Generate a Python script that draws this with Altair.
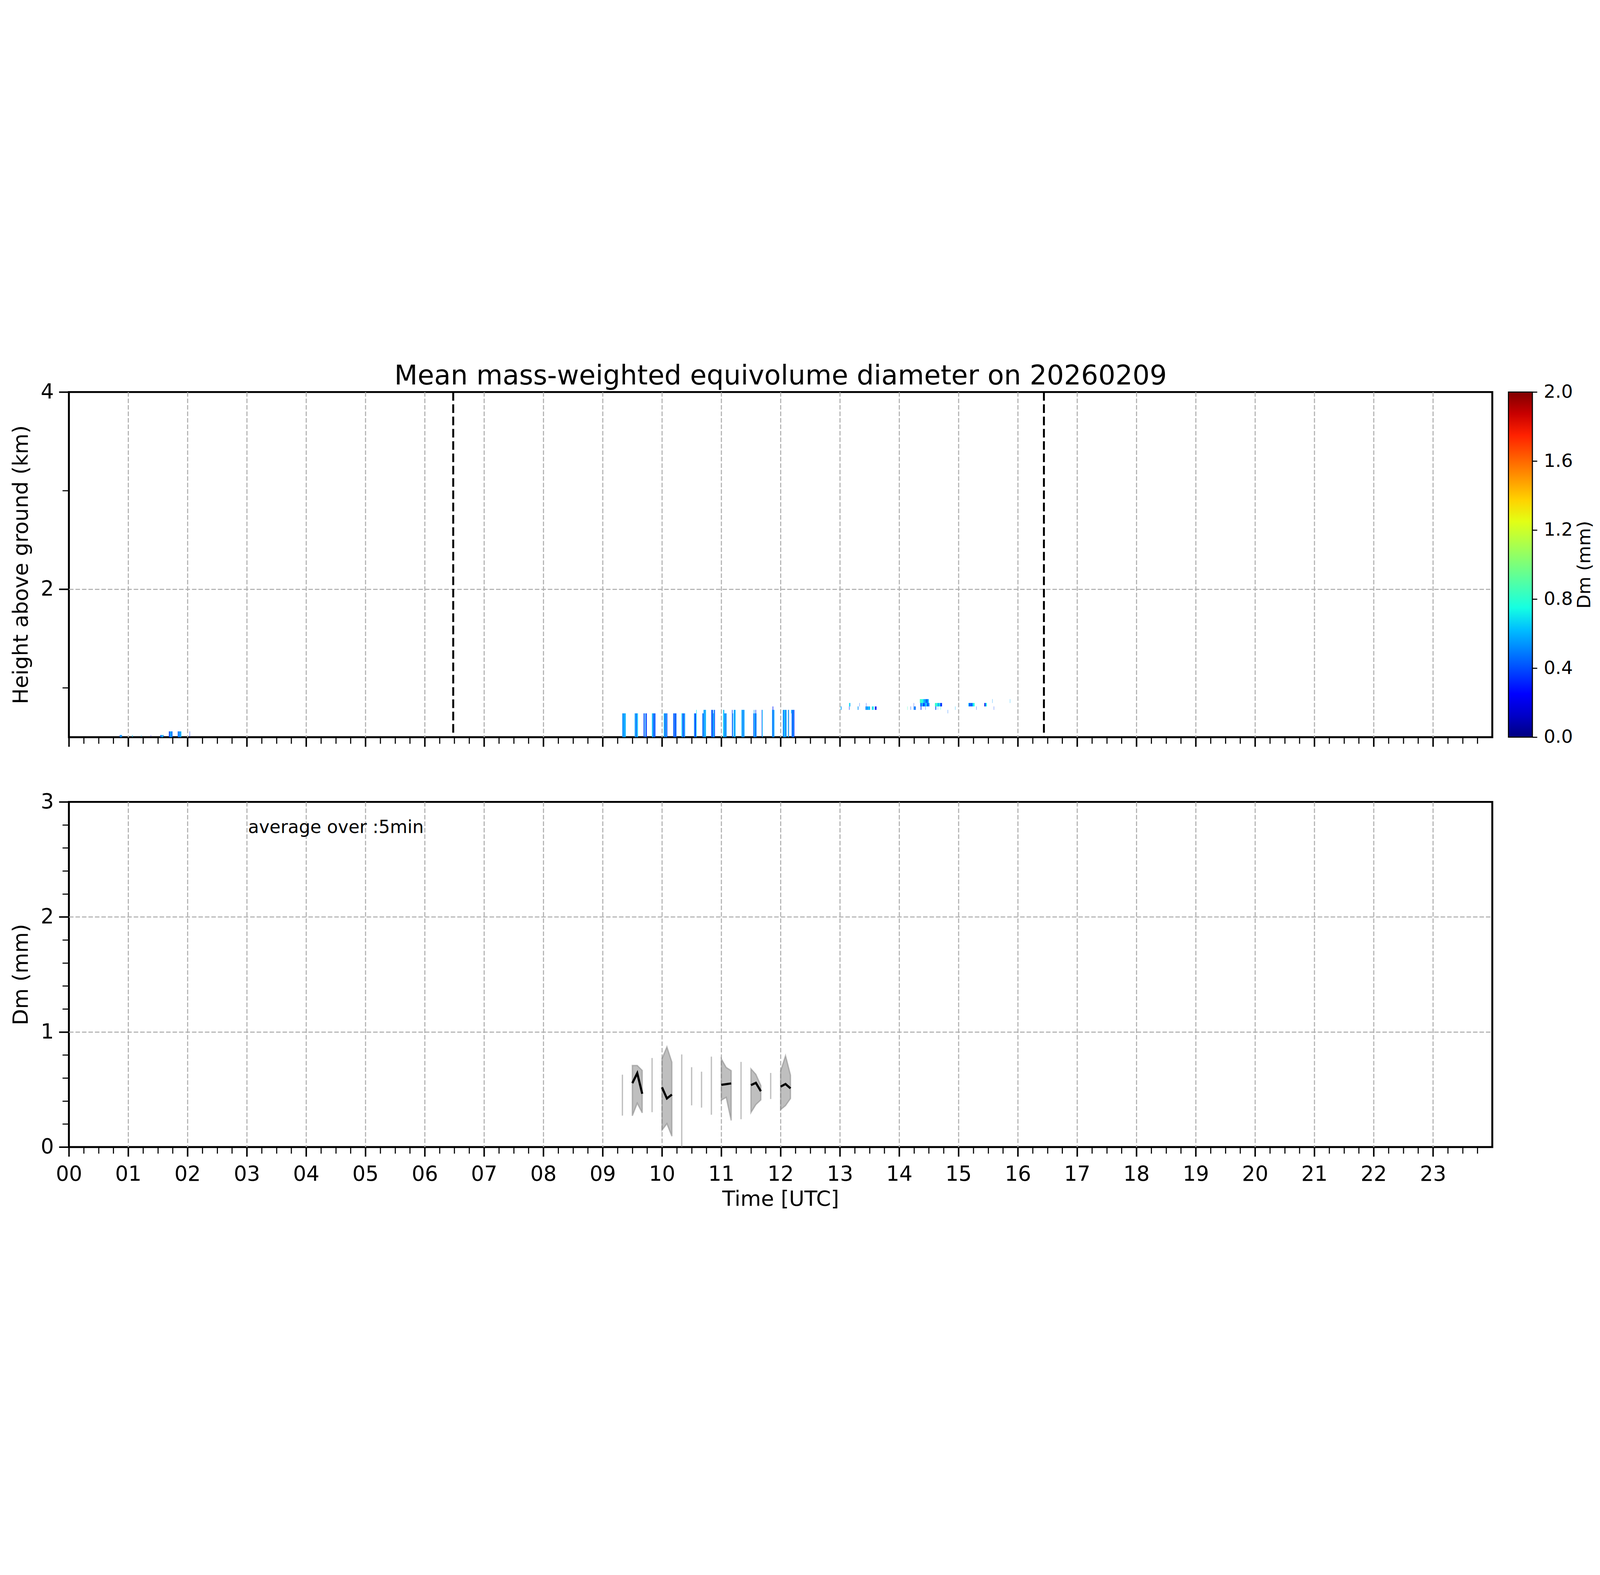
import altair as alt
import pandas as pd

# ---------------- data ----------------
# radar range-gate edges (km above ground)
gate_edges = [0.500, 0.522, 0.559, 0.596, 0.633, 0.668, 0.705, 0.742, 0.777, 0.812, 0.847, 0.886]

# early weak echoes: start/end hour, top gate index, Dm per sub-column
early_start = [0.857, 1.065, 1.218, 1.380, 1.540, 1.686, 1.835, 2.035]
early_end = [0.896, 1.073, 1.222, 1.384, 1.595, 1.747, 1.896, 2.041]
early_top = [1, 1, 1, 1, 1, 2, 2, 2]
early_dm = [[0.45, 0.58, 0.50], [0.62], [0.60], [0.15], [0.40, 0.48, 0.55, 0.80, 0.38],
            [0.35, 0.42, 0.55, 0.62, 0.40, 0.50], [0.40, 0.58, 0.48, 0.52, 0.62], [0.35]]

# main precipitation bursts 09-12 UTC
main_start = [9.330, 9.540, 9.690, 9.830, 10.030, 10.190, 10.330, 10.540, 10.680, 10.830,
              11.030, 11.180, 11.340, 11.540, 11.682, 11.856, 12.037, 12.123, 12.186]
main_end = [9.390, 9.595, 9.745, 9.890, 10.090, 10.245, 10.390, 10.585, 10.742, 10.893,
            11.090, 11.241, 11.392, 11.595, 11.698, 11.895, 12.100, 12.141, 12.232]
main_top = [[7] * 6, [7] * 6, [7] * 6, [7] * 6, [7] * 6, [7] * 6, [7] * 6,
            [7, 7, 7, 7, 7, 8], [7, 7, 8, 8, 8, 8], [8, 8, 8, 7, 8, 8], [8, 8, 7, 7, 7, 7],
            [8, 7, 7, 8, 8, 8], [8] * 6, [7, 8, 7, 7, 8, 7], [8, 8], [8, 9, 8, 8],
            [8] * 6, [8, 8], [8, 8, 8, 8]]
main_dm = [[0.50, 0.58, 0.45, 0.62, 0.55, 0.60],
           [0.55, 0.62, 0.40, 0.50, 0.58, 0.65],
           [0.35, 0.45, None, 0.55, 0.40, 0.30],
           [0.65, 0.55, 0.45, 0.40, 0.50, 0.35],
           [0.70, 0.45, 0.38, 0.55, 0.62, 0.30],
           [0.45, 0.35, 0.55, 0.40, 0.30, 0.50],
           [0.65, 0.55, 0.40, 0.35, 0.60, 0.50],
           [0.55, 0.50, 0.40, 0.30, 0.45, 0.70],
           [0.50, 0.42, 0.55, 0.62, 0.48, 0.65],
           [0.40, 0.45, 0.35, 0.55, 0.65, 0.30],
           [0.70, 0.55, 0.60, 0.45, 0.58, 0.52],
           [0.35, 0.55, None, 0.60, 0.50, 0.62],
           [0.55, 0.62, 0.50, 0.45, 0.60, 0.55],
           [0.40, 0.55, 0.60, 0.50, 0.35, 0.55],
           [0.30, 0.70],
           [0.62, 0.30, 0.58, 0.55],
           [0.55, 0.45, 0.60, 0.70, 0.40, 0.55],
           [0.75, 0.40],
           [0.50, 0.35, 0.60, 0.30]]

# isolated single-gate echoes (mostly 13-16 UTC)
iso_start = [12.176, 13.014, 13.155, 13.155, 13.299, 13.329, 13.432, 13.443, 13.538, 13.589,
             14.137, 14.193, 14.244, 14.244, 14.348, 14.355, 14.362, 14.443, 14.603, 14.610,
             14.650, 14.696, 14.817, 14.942, 15.167, 15.301, 15.436, 15.571, 15.594, 15.868]
iso_end = [12.185, 13.028, 13.176, 13.162, 13.313, 13.333, 13.508, 13.447, 13.571, 13.617,
           14.141, 14.198, 14.248, 14.279, 14.499, 14.510, 14.373, 14.447, 14.722, 14.624,
           14.654, 14.700, 14.821, 14.946, 15.271, 15.305, 15.478, 15.575, 15.598, 15.872]
iso_gate = [7, 8, 9, 8, 8, 9, 8, 9, 8, 8,
            8, 8, 9, 8, 10, 9, 8, 8, 9, 8,
            8, 8, 7, 8, 9, 8, 9, 10, 8, 10]
iso_dm = [[0.60], [0.70, 0.45], [0.72, 0.60], [0.35], [0.65, 0.45], [0.40],
          [0.50, 0.62, 0.45, 0.68, 0.55], [0.30], [0.80, 0.60, 0.75], [0.30, 0.20],
          [0.85], [0.40], [0.35], [0.45, 0.55, 0.40],
          [0.85, 0.80, 0.75, 0.62, 0.55, 0.48, 0.40, 0.60],
          [0.45, 0.60, 0.35, 0.50, 0.65, 0.40, 0.50], [0.30], [0.40],
          [0.80, 0.85, 0.70, 0.55, 0.75, 0.40, 0.30], [0.40],
          [0.55], [0.75], [0.45], [0.60], [0.60, 0.30, 0.50, 0.35, 0.70, 0.75], [0.35],
          [0.20, 0.50, 0.75], [0.55], [0.35], [0.60]]

sun_times = [6.48, 16.44]

# 5-min averaged Dm (mean and +-std band)
seg_id = [1, 1, 1, 2, 2, 2, 3, 3, 3, 4, 4, 4, 5, 5, 5]
seg_time = [9.500, 9.583, 9.667, 10.000, 10.083, 10.167, 11.000, 11.083, 11.167,
            11.500, 11.583, 11.667, 12.000, 12.083, 12.167]
seg_mean = [0.555, 0.642, 0.463, 0.519, 0.422, 0.456, 0.541, 0.547, 0.553,
            0.538, 0.558, 0.485, 0.525, 0.548, 0.510]
seg_lo = [0.272, 0.381, 0.297, 0.147, 0.203, 0.094, 0.407, 0.432, 0.231,
          0.300, 0.369, 0.410, 0.325, 0.360, 0.422]
seg_hi = [0.709, 0.709, 0.666, 0.767, 0.871, 0.738, 0.767, 0.692, 0.664,
          0.680, 0.632, 0.535, 0.660, 0.794, 0.625]

single_time = [9.333, 9.833, 10.333, 10.500, 10.667, 10.833, 11.333, 11.833]
single_lo = [0.273, 0.303, -0.05, 0.362, 0.343, 0.281, 0.242, 0.418]
single_hi = [0.629, 0.774, 0.805, 0.694, 0.655, 0.786, 0.740, 0.644]

note_x = [3.02]
note_y = [2.73]
note_text = ["average over :5min"]

title_text = "Mean mass-weighted equivolume diameter on 20260209"

# jet colormap stops over 0-2 mm
dm_stops = [0.0, 0.125, 0.25, 0.375, 0.5, 0.625, 0.75, 0.875, 1.0,
            1.125, 1.25, 1.375, 1.5, 1.625, 1.75, 1.875, 2.0]
jet_colors = ["#00007f", "#0000c8", "#0000ff", "#0040ff", "#0080ff", "#00bfff", "#15ffe2",
              "#48ffaf", "#7bff7b", "#afff48", "#e2ff15", "#ffd200", "#ff9700", "#ff5c00",
              "#ff2100", "#c80000", "#800000"]
cbar_ticks = [0.0, 0.4, 0.8, 1.2, 1.6, 2.0]
cbar_lo = [0.0]
cbar_hi = [2.0]

# ---------------- tables ----------------
cells = []


def add_cell(t0, t1, g0, g1, dm):
    cells.append({"t0": t0, "t1": t1, "h0": gate_edges[g0], "h1": gate_edges[g1], "dm": dm})


for s, e, top, dms in zip(early_start, early_end, early_top, early_dm):
    w = (e - s) / len(dms)
    for i, d in enumerate(dms):
        add_cell(s + i * w, s + (i + 1) * w, 0, top, d)

for s, e, tops, dms in zip(main_start, main_end, main_top, main_dm):
    w = (e - s) / len(dms)
    for i, (d, tp) in enumerate(zip(dms, tops)):
        if d is None:
            continue
        add_cell(s + i * w, s + (i + 1) * w, 0, tp, d)

for s, e, g, dms in zip(iso_start, iso_end, iso_gate, iso_dm):
    w = (e - s) / len(dms)
    for i, d in enumerate(dms):
        add_cell(s + i * w, s + (i + 1) * w, g, g + 1, d)

cells_df = pd.DataFrame(cells)
sun_df = pd.DataFrame({"t": sun_times})
seg_df = pd.DataFrame({"seg": seg_id, "t": seg_time, "mean": seg_mean, "lo": seg_lo, "hi": seg_hi})
single_df = pd.DataFrame({"t": single_time, "lo": single_lo, "hi": single_hi})
note_df = pd.DataFrame({"x": note_x, "y": note_y, "text": note_text})
cbar_df = pd.DataFrame({"lo": cbar_lo, "hi": cbar_hi})

# ---------------- styling ----------------
W, H = 6600, 1600
CB_GAP, CB_W = 75, 111
FS = 96
x_ticks = [k / 4 for k in range(96)]
is_int = "abs(datum.value - round(datum.value)) < 1e-6"


def cond(test, a, b):
    return {"condition": {"test": test, "value": a}, "value": b}


def x_axis(show_labels):
    kw = dict(
        values=x_ticks,
        domain=False,
        grid=True,
        gridColor="#b0b0b0",
        gridDash=[21, 9],
        gridWidth=5,
        gridOpacity=cond(is_int + " && datum.value > 0.5", 1, 0),
        tickColor="black",
        tickSize=cond(is_int, 44, 30),
        tickWidth=cond(is_int, 7, 5),
        labelFontSize=FS,
        labelColor="black",
        labelPadding=36,
        labelOverlap=False,
        labelFlush=False,
        titleFontSize=98,
        titleFontWeight="normal",
        titleColor="black",
        titlePadding=20,
    )
    if show_labels:
        kw["labelExpr"] = (is_int + " && datum.value < 24 ? "
                           "(datum.value < 10 ? '0' : '') + round(datum.value) : ''")
        kw["title"] = "Time [UTC]"
    else:
        kw["labels"] = False
        kw["title"] = None
    return alt.Axis(**kw)


def y_axis(values, major_test, grid_test, title):
    return alt.Axis(
        values=values,
        domain=False,
        grid=True,
        gridColor="#b0b0b0",
        gridDash=[21, 9],
        gridWidth=5,
        gridOpacity=cond(grid_test, 1, 0),
        tickColor="black",
        tickSize=cond(major_test, 46, 30),
        tickWidth=cond(major_test, 7, 5),
        format=".0f",
        labelExpr=major_test + " ? datum.label : ''",
        labelFontSize=FS,
        labelColor="black",
        labelPadding=24,
        labelOverlap=False,
        labelFlush=False,
        title=title,
        titleFontSize=98,
        titleFontWeight="normal",
        titleColor="black",
        titlePadding=40,
    )


x_scale = alt.Scale(domain=[0, 24], nice=False, zero=False)
dm_color = alt.Scale(domain=dm_stops, range=jet_colors, type="linear", clamp=True)

# ---------------- top panel ----------------
heat = alt.Chart(cells_df).mark_rect().encode(
    x=alt.X("t0:Q", scale=x_scale, axis=x_axis(False)),
    x2="t1:Q",
    y=alt.Y("h0:Q", scale=alt.Scale(domain=[0.5, 4], nice=False, zero=False),
            axis=y_axis([1, 2, 3, 4], "datum.value % 2 === 0", "datum.value === 2",
                        "Height above ground (km)")),
    y2="h1:Q",
    color=alt.Color("dm:Q", scale=dm_color, legend=None),
)

sun = alt.Chart(sun_df).mark_rule(color="black", strokeWidth=9, strokeDash=[40, 17]).encode(
    x=alt.X("t:Q", scale=x_scale)
)

# colour bar drawn beside the panel, with its own y scale and right-hand axis
jet_gradient = alt.LinearGradient(
    gradient="linear",
    stops=[alt.GradientStop(offset=v / 2.0, color=c) for v, c in zip(dm_stops, jet_colors)],
    x1=0, x2=0, y1=1, y2=0,
)

cbar = alt.Chart(cbar_df).mark_rect(
    fill=jet_gradient, stroke="black", strokeWidth=5
).encode(
    x=alt.value(W + CB_GAP),
    x2=alt.value(W + CB_GAP + CB_W),
    y=alt.Y("lo:Q", scale=alt.Scale(domain=[0, 2], nice=False, zero=False),
            axis=alt.Axis(
                orient="right", offset=CB_GAP + CB_W, values=cbar_ticks, format=".1f",
                domain=False, grid=False,
                tickColor="black", tickSize=22, tickWidth=5,
                labelFontSize=85, labelColor="black", labelPadding=30,
                labelOverlap=False, labelFlush=False,
                title="Dm (mm)", titleFontSize=85, titleFontWeight="normal",
                titleColor="black", titleAngle=270, titlePadding=98,
            )),
    y2="hi:Q",
)

top = alt.layer(heat, sun, cbar).resolve_scale(y="independent").properties(width=W, height=H)

# ---------------- bottom panel ----------------
dm_scale = alt.Scale(domain=[0, 3], nice=False, zero=False)
y_bottom_axis = y_axis([k / 5 for k in range(16)], is_int,
                       is_int + " && datum.value > 0.5 && datum.value < 2.5", "Dm (mm)")

band = alt.Chart(seg_df).mark_area(
    fill="#808080", fillOpacity=0.5, stroke="#808080", strokeOpacity=0.5, strokeWidth=6
).encode(
    x=alt.X("t:Q", scale=x_scale, axis=x_axis(True)),
    y=alt.Y("lo:Q", scale=dm_scale, axis=y_bottom_axis),
    y2="hi:Q",
    detail="seg:N",
)

singles = alt.Chart(single_df).mark_rule(
    color="#808080", opacity=0.5, strokeWidth=6, clip=True
).encode(
    x=alt.X("t:Q", scale=x_scale),
    y=alt.Y("lo:Q", scale=dm_scale),
    y2="hi:Q",
)

mean_line = alt.Chart(seg_df).mark_line(color="black", strokeWidth=10).encode(
    x=alt.X("t:Q", scale=x_scale),
    y=alt.Y("mean:Q", scale=dm_scale),
    detail="seg:N",
)

note = alt.Chart(note_df).mark_text(
    align="left", baseline="alphabetic", fontSize=83, color="black"
).encode(
    x=alt.X("x:Q", scale=x_scale),
    y=alt.Y("y:Q", scale=dm_scale),
    text="text:N",
)

bottom = alt.layer(band, singles, mean_line, note).properties(width=W, height=H)

chart = alt.vconcat(top, bottom, spacing=300, bounds="flush").properties(
    title=alt.TitleParams(
        title_text, fontSize=125, fontWeight="normal", color="black",
        offset=-44, anchor="middle", frame="group",
    ),
    padding={"left": 30, "top": 49, "right": 10, "bottom": 10},
).configure(
    font="DejaVu Sans",
).configure_view(
    stroke="black", strokeWidth=9,
)

chart.save("out.html", embed_options={"renderer": "svg", "actions": False})
